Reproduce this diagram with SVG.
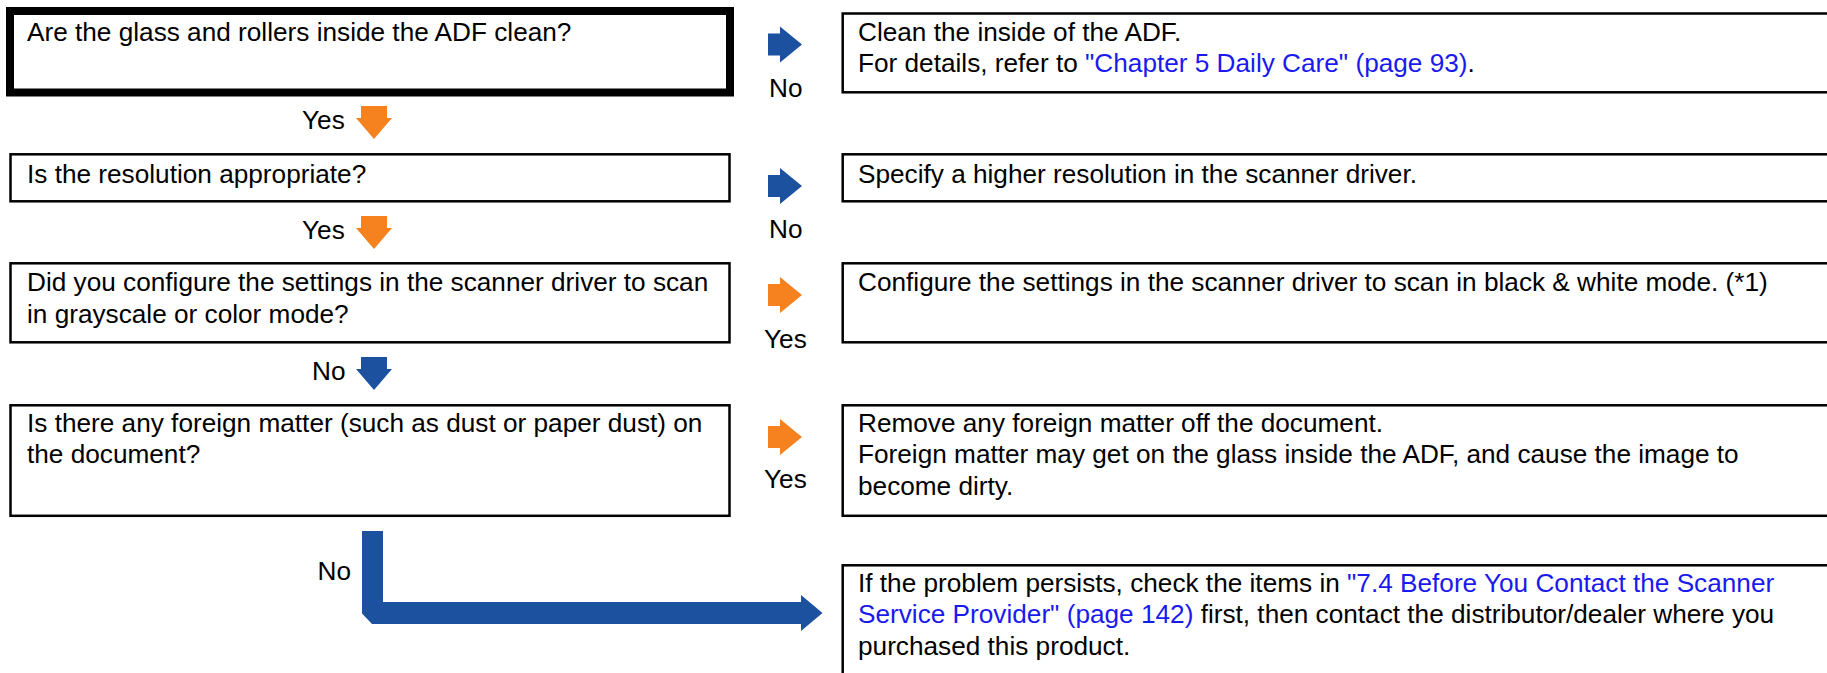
<svg xmlns="http://www.w3.org/2000/svg" width="1827" height="673" viewBox="0 0 1827 673">
<style>
.t{font-family:"Liberation Sans",Arial,sans-serif;font-size:26.2px;fill:#000}
.lk{fill:#1a1aee}
.box{fill:#fff;stroke:#000;stroke-width:2.5}
.blue{fill:#1b519e}
.orange{fill:#f6821f}
</style>
<defs>
<path id="ar" d="M0,-11 H12 V-18 L34,0 L12,18 V11 H0 Z"/>
<path id="ad" d="M-13,0 H13 V12 H18 L0,33 L-18,12 H-13 Z"/>
</defs>
<rect width="1827" height="673" fill="#fff"/>
<g id="q1">
<rect x="10" y="11" width="720" height="81.5" fill="#fff" stroke="#000" stroke-width="8"/>
<text class="t" x="27" y="41">Are the glass and rollers inside the ADF clean?</text>
</g>
<g id="a1">
<rect class="box" x="842.7" y="13.5" width="1000" height="78.8"/>
<text class="t" x="858" y="40.7">Clean the inside of the ADF.</text>
<text class="t" x="858" y="72.3">For details, refer to <tspan class="lk">"Chapter 5 Daily Care" (page 93)</tspan>.</text>
</g>
<g id="q2">
<rect class="box" x="10.5" y="154.3" width="719" height="47"/>
<text class="t" x="27" y="182.7">Is the resolution appropriate?</text>
</g>
<g id="a2">
<rect class="box" x="842.7" y="154.3" width="1000" height="47"/>
<text class="t" x="858" y="182.7">Specify a higher resolution in the scanner driver.</text>
</g>
<g id="q3">
<rect class="box" x="10.5" y="263.3" width="719" height="79"/>
<text class="t" x="27" y="290.7">Did you configure the settings in the scanner driver to scan</text>
<text class="t" x="27" y="322.7">in grayscale or color mode?</text>
</g>
<g id="a3">
<rect class="box" x="842.7" y="263.3" width="1000" height="79"/>
<text class="t" x="858" y="290.7">Configure the settings in the scanner driver to scan in black &amp; white mode. (*1)</text>
</g>
<g id="q4">
<rect class="box" x="10.5" y="405.3" width="719" height="110.5"/>
<text class="t" x="27" y="431.7">Is there any foreign matter (such as dust or paper dust) on</text>
<text class="t" x="27" y="463.3">the document?</text>
</g>
<g id="a4">
<rect class="box" x="842.7" y="405.3" width="1000" height="110.5"/>
<text class="t" x="858" y="431.7">Remove any foreign matter off the document.</text>
<text class="t" x="858" y="463.3">Foreign matter may get on the glass inside the ADF, and cause the image to</text>
<text class="t" x="858" y="495">become dirty.</text>
</g>
<g id="a5">
<rect class="box" x="842.7" y="565.3" width="1000" height="130"/>
<text class="t" x="858" y="591.7">If the problem persists, check the items in <tspan class="lk">"7.4 Before You Contact the Scanner</tspan></text>
<text class="t" x="858" y="623.3"><tspan class="lk">Service Provider" (page 142)</tspan> first, then contact the distributor/dealer where you</text>
<text class="t" x="858" y="655">purchased this product.</text>
</g>
<g id="connectors">
<use href="#ar" class="blue" x="768" y="44.5"/>
<text class="t" x="769" y="96.7">No</text>
<use href="#ad" class="orange" x="374" y="106"/>
<text class="t" x="302" y="129">Yes</text>
<use href="#ar" class="blue" x="768" y="186"/>
<text class="t" x="769" y="238">No</text>
<use href="#ad" class="orange" x="374" y="216"/>
<text class="t" x="302" y="239">Yes</text>
<use href="#ar" class="orange" x="768" y="295"/>
<text class="t" x="764" y="348.3">Yes</text>
<use href="#ad" class="blue" x="374" y="357"/>
<text class="t" x="312" y="380">No</text>
<use href="#ar" class="orange" x="768" y="437"/>
<text class="t" x="764" y="488.3">Yes</text>
<path class="blue" d="M362,531 H383 V602 H801 V595 L822.5,613 L801,631 V624 H372 L362,613.5 Z"/>
<text class="t" x="317.5" y="580">No</text>
</g>
</svg>
